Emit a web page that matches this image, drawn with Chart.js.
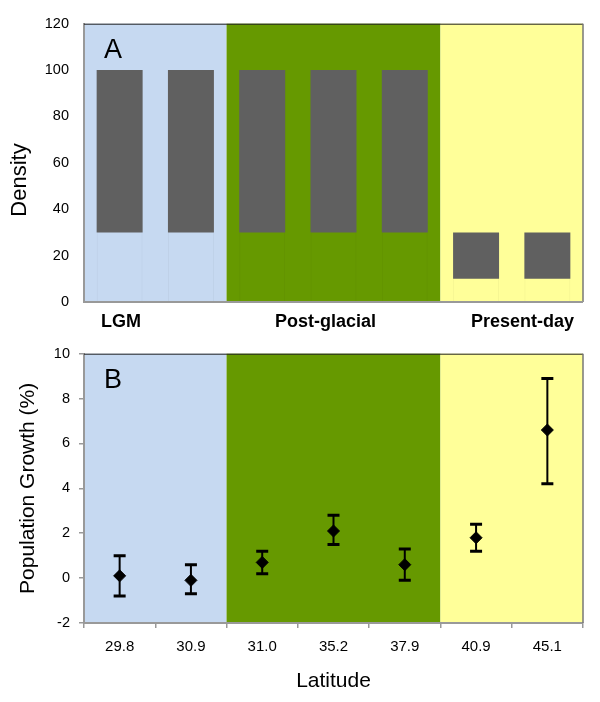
<!DOCTYPE html>
<html>
<head>
<meta charset="utf-8">
<script src="https://cdn.jsdelivr.net/npm/chart.js@4"></script>
<style>
  body { margin: 0; background: #fff; }
  #wrap { position: relative; width: 600px; height: 702px; }
  .panel { position: absolute; left: 0; width: 600px; }
</style>
</head>
<body>
<div id="wrap">
  <div class="panel" style="top:0;height:336px"><canvas id="densityChart"></canvas></div>
  <div class="panel" style="top:336px;height:366px"><canvas id="growthChart"></canvas></div>
</div>
<script>
// data
const latitudes = ["29.8", "30.9", "31.0", "35.2", "37.9", "40.9", "45.1"];
const densityLow = [30, 30, 30, 30, 30, 10, 10];
const densityHigh = [100, 100, 100, 100, 100, 30, 30];
const growth = [0.1, -0.1, 0.7, 2.1, 0.6, 1.8, 6.6];
const growthLow = [-0.8, -0.7, 0.2, 1.5, -0.1, 1.2, 4.2];
const growthHigh = [1.0, 0.6, 1.2, 2.8, 1.3, 2.4, 8.9];
const periods = ["LGM", "Post-glacial", "Present-day"];
const periodFirst = [0, 2, 5];
const periodLast = [1, 4, 6];
const densityTicks = [0, 20, 40, 60, 80, 100, 120];
const growthTicks = [-2, 0, 2, 4, 6, 8, 10];

const periodColors = ["#C6D9F1", "#669900", "#FFFF99"];
const FONT = "'Liberation Sans', Arial, sans-serif";
Chart.defaults.font.family = FONT;
Chart.defaults.color = "#000";

function periodEdges(x, i) {
  const half = (x.getPixelForValue(1) - x.getPixelForValue(0)) / 2;
  return [x.getPixelForValue(periodFirst[i]) - half, x.getPixelForValue(periodLast[i]) + half];
}

// coloured period bands behind everything
const periodBands = {
  id: "periodBands",
  beforeDraw(chart) {
    const { ctx, chartArea: a, scales: { x } } = chart;
    ctx.save();
    periods.forEach((p, i) => {
      const [l, r] = periodEdges(x, i);
      ctx.fillStyle = periodColors[i];
      ctx.fillRect(l, a.top, r - l, a.bottom - a.top);
    });
    ctx.restore();
  }
};

// top / right frame of the plot box
const frame = {
  id: "frame",
  afterDraw(chart, args, opts) {
    const { ctx, chartArea: a } = chart;
    ctx.save();
    ctx.strokeStyle = "#222";
    ctx.lineWidth = 1;
    ctx.beginPath(); ctx.moveTo(a.left, a.top + 0.5); ctx.lineTo(a.right, a.top + 0.5); ctx.stroke();
    ctx.strokeStyle = "#777";
    ctx.lineWidth = 1.5;
    ctx.beginPath(); ctx.moveTo(a.right, a.top); ctx.lineTo(a.right, a.bottom); ctx.stroke();
    if (opts.bottom) {
      ctx.strokeStyle = "#999";
      ctx.lineWidth = 2;
      ctx.beginPath(); ctx.moveTo(a.left, a.bottom); ctx.lineTo(a.right, a.bottom); ctx.stroke();
    }
    ctx.restore();
  }
};

const panelLetter = {
  id: "panelLetter",
  afterDraw(chart, args, opts) {
    const { ctx, chartArea: a } = chart;
    ctx.save();
    ctx.font = "27px " + FONT;
    ctx.fillStyle = "#000";
    ctx.textBaseline = "alphabetic";
    ctx.fillText(opts.text, a.left + 20, a.top + opts.base);
    ctx.restore();
  }
};

// y title and period names for the top panel
const densityText = {
  id: "densityText",
  afterDraw(chart) {
    const { ctx, chartArea: a, scales: { x } } = chart;
    ctx.save();
    ctx.fillStyle = "#000";
    ctx.font = "22px " + FONT;
    ctx.translate(26, 180);
    ctx.rotate(-Math.PI / 2);
    ctx.textAlign = "center";
    ctx.fillText("Density", 0, 0);
    ctx.restore();

    ctx.save();
    ctx.fillStyle = "#000";
    ctx.font = "bold 18px " + FONT;
    const y = a.bottom + 25;
    periods.forEach((p, i) => {
      const [l, r] = periodEdges(x, i);
      if (i === 0) { ctx.textAlign = "left"; ctx.fillText(p, l + 17, y); }
      else if (i === 1) { ctx.textAlign = "center"; ctx.fillText(p, (l + r) / 2 - 8, y); }
      else { ctx.textAlign = "right"; ctx.fillText(p, r - 9, y); }
    });
    ctx.restore();
  }
};

const errorBars = {
  id: "errorBars",
  beforeDatasetsDraw(chart) {
    const { ctx, scales: { x, y } } = chart;
    ctx.save();
    ctx.strokeStyle = "#000";
    growth.forEach((v, i) => {
      const px = x.getPixelForValue(i);
      const hi = y.getPixelForValue(growthHigh[i]);
      const lo = y.getPixelForValue(growthLow[i]);
      ctx.lineWidth = 2;
      ctx.beginPath(); ctx.moveTo(px, hi); ctx.lineTo(px, lo); ctx.stroke();
      ctx.lineWidth = 3;
      ctx.beginPath();
      ctx.moveTo(px - 6, hi); ctx.lineTo(px + 6, hi);
      ctx.moveTo(px - 6, lo); ctx.lineTo(px + 6, lo);
      ctx.stroke();
    });
    ctx.restore();
  }
};

new Chart(document.getElementById("densityChart"), {
  type: "bar",
  data: {
    labels: latitudes,
    datasets: [
      {
        data: latitudes.map((l, i) => [densityLow[i], densityHigh[i]]),
        backgroundColor: "#606060"
      },
      {
        data: latitudes.map((l, i) => [densityTicks[0], densityLow[i]]),
        backgroundColor: "rgba(0,0,0,0)",
        borderColor: "rgba(0,0,0,0.04)",
        borderWidth: { left: 1, right: 1, top: 0, bottom: 0 },
        borderSkipped: false
      }
    ]
  },
  options: {
    responsive: true,
    maintainAspectRatio: false,
    animation: false,
    layout: { padding: { top: 20, right: 17, bottom: 34, left: 0 } },
    datasets: { bar: { grouped: false, categoryPercentage: 1, barPercentage: 0.645 } },
    plugins: {
      legend: { display: false },
      tooltip: { enabled: false },
      frame: { bottom: true },
      panelLetter: { text: "A", base: 34 }
    },
    scales: {
      x: { display: false },
      y: {
        min: densityTicks[0],
        max: densityTicks[densityTicks.length - 1],
        ticks: { stepSize: densityTicks[1] - densityTicks[0], padding: 15, font: { size: 14.5 } },
        grid: { display: false, drawTicks: false },
        border: { color: "#999", width: 2 },
        afterFit(s) { s.width = 84; }
      }
    }
  },
  plugins: [periodBands, frame, panelLetter, densityText]
});

new Chart(document.getElementById("growthChart"), {
  type: "line",
  data: {
    labels: latitudes,
    datasets: [{
      data: growth,
      showLine: false,
      pointStyle: "rectRot",
      pointRadius: 6,
      backgroundColor: "#000",
      borderColor: "#000",
      borderWidth: 1
    }]
  },
  options: {
    responsive: true,
    maintainAspectRatio: false,
    animation: false,
    layout: { padding: { top: 4, right: 17, bottom: 0, left: 0 } },
    plugins: {
      legend: { display: false },
      tooltip: { enabled: false },
      frame: { bottom: false },
      panelLetter: { text: "B", base: 34 }
    },
    scales: {
      x: {
        offset: true,
        grid: { offset: true, drawOnChartArea: false, tickLength: 5, color: "#999", lineWidth: 1.5 },
        border: { color: "#999", width: 2 },
        ticks: { padding: 10, font: { size: 15 } },
        title: { display: true, text: "Latitude", font: { size: 21 }, padding: { top: 0, bottom: 8 } },
        afterFit(s) { s.height = 79; }
      },
      y: {
        min: growthTicks[0],
        max: growthTicks[growthTicks.length - 1],
        ticks: { stepSize: growthTicks[1] - growthTicks[0], padding: 9, font: { size: 14.5 } },
        grid: { drawOnChartArea: false, tickLength: 5, color: "#999", lineWidth: 1.5 },
        border: { color: "#999", width: 2 },
        title: { display: true, text: "Population Growth (%)", font: { size: 21 }, padding: { top: 16, bottom: 0 } },
        afterFit(s) { s.width = 84; }
      }
    }
  },
  plugins: [periodBands, errorBars, frame, panelLetter]
});
</script>
</body>
</html>
